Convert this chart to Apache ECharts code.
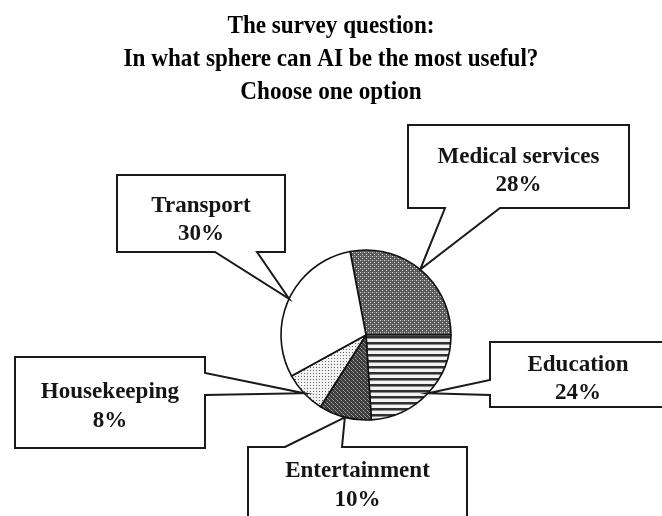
<!DOCTYPE html>
<html>
<head>
<meta charset="utf-8">
<script src="https://cdn.jsdelivr.net/npm/echarts@6/dist/echarts.min.js"></script>
<style>
html,body{margin:0;padding:0;background:#fff;}
#chart{width:662px;height:516px;}
</style>
</head>
<body>
<div id="chart"></div>
<script>
// ---- data ----
const titleLines = ['The survey question:', 'In what sphere can AI be the most useful?', 'Choose one option'];
const categories = ['Medical services', 'Education', 'Entertainment', 'Housekeeping', 'Transport'];
const values = [28, 24, 10, 8, 30];

// ---- styles / layout (not data) ----
function makePattern(w, h, base, dots) {
  const c = document.createElement('canvas');
  c.width = w; c.height = h;
  const g = c.getContext('2d');
  g.fillStyle = base; g.fillRect(0, 0, w, h);
  dots.forEach(d => { g.fillStyle = d[4]; g.fillRect(d[0], d[1], d[2], d[3]); });
  return { image: c, repeat: 'repeat' };
}
const fills = [
  makePattern(4, 4, '#5a5a5a', [[0,0,1,1,'#d8d8d8'],[2,2,1,1,'#d8d8d8'],[2,0,1,1,'#8a8a8a']]),
  makePattern(6, 6, '#f2f2f2', [[0,0,6,2,'#303030'],[0,2,6,1,'#8a8a8a']]),
  makePattern(4, 4, '#3c3c3c', [[1,0,1,1,'#a0a0a0'],[3,2,1,1,'#a0a0a0'],[0,3,1,1,'#8a8a8a'],[2,1,1,1,'#707070']]),
  makePattern(3, 3, '#f2f2f2', [[1,1,1,1,'#6a6a6a']]),
  '#ffffff'
];
// callout boxes: x,y,w,h, side of pointer, pointer base range, text line centres (offsets from top)
const boxes = [
  { x: 408, y: 125, w: 221, h: 83, side: 'bottom', b0: 445, b1: 500, t1: 32, t2: 60 },
  { x: 490, y: 342, w: 180, h: 65, side: 'left',   b0: 380, b1: 395, t1: 23, t2: 51 },
  { x: 248, y: 447, w: 219, h: 90, side: 'top',    b0: 285, b1: 342, t1: 24, t2: 53 },
  { x: 15,  y: 357, w: 190, h: 91, side: 'right',  b0: 373, b1: 395, t1: 35, t2: 64 },
  { x: 117, y: 175, w: 168, h: 77, side: 'bottom', b0: 215, b1: 257, t1: 31, t2: 59 }
];
const CX = 366, CY = 335, R = 85, START = 100.8;
const serif = '"Liberation Serif", "Times New Roman", serif';

const chart = echarts.init(document.getElementById('chart'), null, { renderer: 'canvas' });
chart.setOption({
  backgroundColor: '#ffffff',
  animation: false,
  series: [{
    type: 'pie',
    center: [CX, CY],
    radius: R,
    startAngle: START,
    clockwise: true,
    label: { show: false },
    labelLine: { show: false },
    emphasis: { disabled: true },
    itemStyle: { borderColor: '#111', borderWidth: 1.6 },
    data: categories.map((name, i) => ({ name: name, value: values[i], itemStyle: { color: fills[i] } }))
  }]
});

const graphics = [];
// title lines (condensed bold serif)
titleLines.forEach((t, k) => {
  graphics.push({
    type: 'text', z: 12, x: 331, y: 26 + k * 33, scaleX: 0.89,
    style: { text: t, fontFamily: serif, fontWeight: 'bold', fontSize: 26, fill: '#000', align: 'center', verticalAlign: 'middle' }
  });
});

// pointer tips at the mid-angle of each slice on the pie edge, taken from the library's layout
const total = values.reduce((a, b) => a + b, 0);
let data = null;
try { data = chart.getModel().getSeriesByIndex(0).getData(); } catch (e) { data = null; }
let acc = 0;
categories.forEach((name, i) => {
  let tipX, tipY;
  const lay = data ? data.getItemLayout(i) : null;
  if (lay && lay.startAngle != null) {
    const mid = (lay.startAngle + lay.endAngle) / 2;
    tipX = lay.cx + lay.r * Math.cos(mid);
    tipY = lay.cy + lay.r * Math.sin(mid);
  } else {
    const a0 = -START * Math.PI / 180 + acc / total * 2 * Math.PI;
    const a1 = a0 + values[i] / total * 2 * Math.PI;
    tipX = CX + R * Math.cos((a0 + a1) / 2);
    tipY = CY + R * Math.sin((a0 + a1) / 2);
  }
  acc += values[i];
  const b = boxes[i];
  const L = b.x, T = b.y, Rr = b.x + b.w, B = b.y + b.h;
  let pts;
  if (b.side === 'bottom') pts = [[L,T],[Rr,T],[Rr,B],[b.b1,B],[tipX,tipY],[b.b0,B],[L,B]];
  else if (b.side === 'top') pts = [[L,T],[b.b0,T],[tipX,tipY],[b.b1,T],[Rr,T],[Rr,B],[L,B]];
  else if (b.side === 'left') pts = [[L,T],[Rr,T],[Rr,B],[L,B],[L,b.b1],[tipX,tipY],[L,b.b0]];
  else pts = [[L,T],[Rr,T],[Rr,b.b0],[tipX,tipY],[Rr,b.b1],[Rr,B],[L,B]];
  graphics.push({
    type: 'polygon', z: 10,
    shape: { points: pts },
    style: { fill: '#fff', stroke: '#1a1a1a', lineWidth: 2, lineJoin: 'miter' }
  });
  const textX = b.side === 'left' ? b.x + 88 : b.x + b.w / 2;
  graphics.push({
    type: 'text', z: 11, x: textX, y: b.y + b.t1, scaleX: 0.96,
    style: { text: name, fontFamily: serif, fontWeight: 'bold', fontSize: 24, fill: '#151515', align: 'center', verticalAlign: 'middle' }
  });
  graphics.push({
    type: 'text', z: 11, x: textX, y: b.y + b.t2, scaleX: 0.96,
    style: { text: values[i] + '%', fontFamily: serif, fontWeight: 'bold', fontSize: 24, fill: '#151515', align: 'center', verticalAlign: 'middle' }
  });
});
chart.setOption({ graphic: graphics });
</script>
</body>
</html>
